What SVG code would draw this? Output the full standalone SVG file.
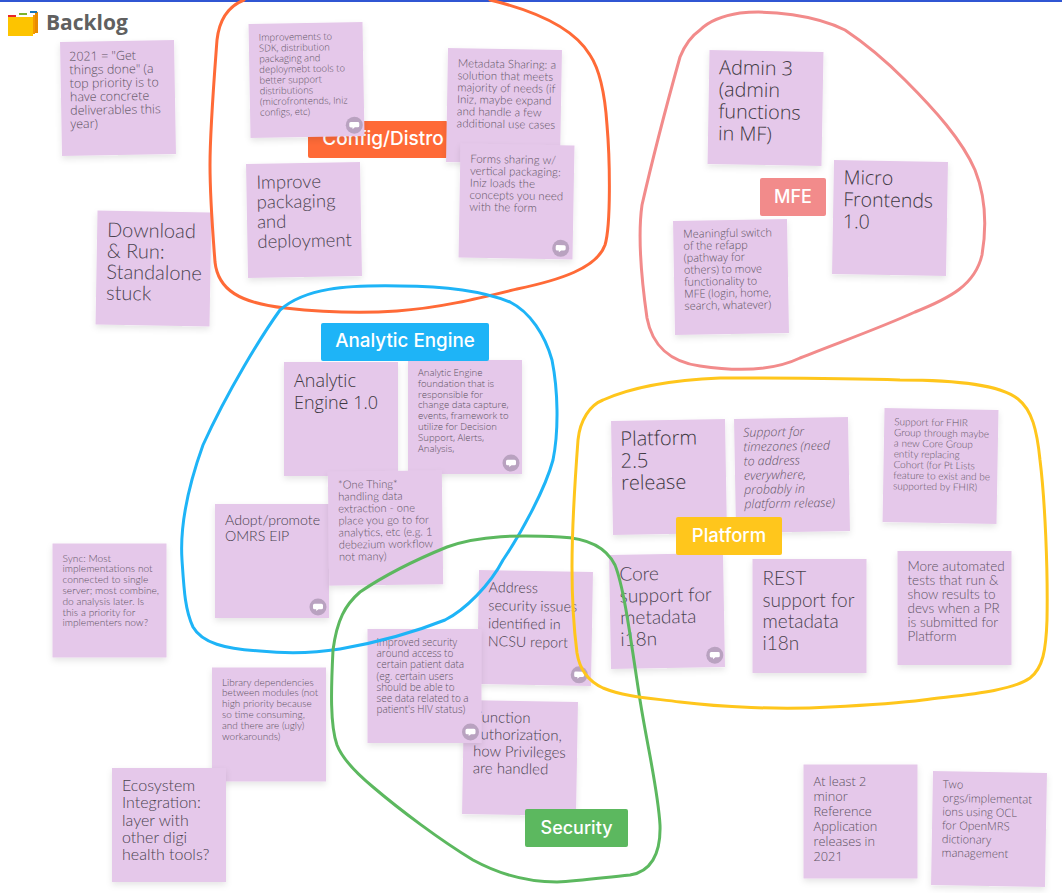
<svg xmlns="http://www.w3.org/2000/svg" xmlns:xlink="http://www.w3.org/1999/xlink" width="1062" height="893" viewBox="0 0 1062 893">
<style>
.n{fill:#e5c8ea;filter:url(#sh)}
text{font-family:"Lato","Noto Sans",sans-serif}
.t{fill:#4a434f;font-weight:300}
.s{fill:#5f5464;font-weight:300}
.h{font-family:"Open Sans","Noto Sans",sans-serif;font-weight:300;fill:#3e3942}
.hs{font-family:"Open Sans","Noto Sans",sans-serif;font-weight:300;fill:#5f5464}
.lb{font-family:"Inter","Roboto",sans-serif;font-weight:500;fill:#fff;text-anchor:middle}
.c{fill:none;stroke-width:3;stroke-linecap:round}
</style>
<defs>
<filter id="sh" x="-15%" y="-15%" width="130%" height="135%"><feDropShadow dx="0" dy="3" stdDeviation="3" flood-color="#000" flood-opacity=".1"/></filter>
<g id="cm"><circle r="8.5" fill="#b9a2c0"/><path d="M-3.5-3.2H3.5Q5-3.2 5-1.7V.7Q5 2.2 3.5 2.2H.5L-1.8 4V2.2H-3.5Q-5 2.2-5 .7V-1.7Q-5-3.2-3.5-3.2Z" fill="#fff"/></g>
</defs>
<rect width="1062" height="893" fill="#fff"/>
<rect width="1062" height="2" fill="#3056d3"/>
<g id="title">
<path d="M8 17H33V36H8Z" fill="#fdc400"/><path d="M33 15H35V34H33Z" fill="#f59a00"/><path d="M35 12H38V33H35Z" fill="#e98b00"/>
<path d="M8 15H16V17H8Z" fill="#e8262a"/><path d="M19 13H27V15H19Z" fill="#7cb32c"/><path d="M30 11H37V13H30Z" fill="#1976b8"/>
<text x="46" y="30" font-size="21" font-weight="700" style="font-family:'Open Sans','Noto Sans',sans-serif" fill="#606060">Backlog</text>
</g>
<g id="label-config"><rect x="308" y="121" width="140" height="37" rx="2" fill="#ff6a37"/><text class="lb" x="383" y="145" font-size="19">Config/Distro</text></g>

<g id="note-2021" transform="translate(118 98) rotate(-1)"><rect class="n" x="-57" y="-57" width="114" height="114"/><text class="hs" font-size="12.5"><tspan x="-48" y="-38">2021 = "Get</tspan><tspan x="-48" dy="13.5">things done" (a</tspan><tspan x="-48" dy="13.5">top priority is to</tspan><tspan x="-48" dy="13.5">have concrete</tspan><tspan x="-48" dy="13.5">deliverables this</tspan><tspan x="-48" dy="13.5">year)</tspan></text></g>
<g id="note-improvements" transform="translate(306.5 80) rotate(-1)"><rect class="n" x="-57" y="-57" width="114" height="114"/><text class="hs" font-size="9.5"><tspan x="-47" y="-40">Improvements to</tspan><tspan x="-47" dy="10.7">SDK, distribution</tspan><tspan x="-47" dy="10.7">packaging and</tspan><tspan x="-47" dy="10.7">deploymebt tools to</tspan><tspan x="-47" dy="10.7">better support</tspan><tspan x="-47" dy="10.7">distributions</tspan><tspan x="-47" dy="10.7">(microfrontends, Iniz</tspan><tspan x="-47" dy="10.7">configs, etc)</tspan></text><use xlink:href="#cm" x="47" y="46"/></g>
<g id="note-download" transform="translate(153.5 268.5) rotate(1)"><rect class="n" x="-57" y="-57" width="114" height="114"/><text class="t" font-size="20"><tspan x="-47" y="-31">Download</tspan><tspan x="-47" dy="21">&amp; Run:</tspan><tspan x="-47" dy="21">Standalone</tspan><tspan x="-47" dy="21">stuck</tspan></text></g>
<g id="note-improve" transform="translate(304 220) rotate(-1)"><rect class="n" x="-57" y="-57" width="114" height="114"/><text class="t" font-size="18.5"><tspan x="-47" y="-32">Improve</tspan><tspan x="-47" dy="19.7">packaging</tspan><tspan x="-47" dy="19.7">and</tspan><tspan x="-47" dy="19.7">deployment</tspan></text></g>
<g id="note-metadata" transform="translate(504 106) rotate(1)"><rect class="n" x="-57" y="-57" width="114" height="114"/><text class="s" font-size="11.5"><tspan x="-47" y="-38">Metadata Sharing: a</tspan><tspan x="-47" dy="12">solution that meets</tspan><tspan x="-47" dy="12">majority of needs (if</tspan><tspan x="-47" dy="12">Iniz, maybe expand</tspan><tspan x="-47" dy="12">and handle a few</tspan><tspan x="-47" dy="12">additional use cases</tspan></text></g>
<g id="note-forms" transform="translate(516.5 201.5) rotate(1)"><rect class="n" x="-57" y="-57" width="114" height="114"/><text class="s" font-size="11.5"><tspan x="-47" y="-38">Forms sharing w/</tspan><tspan x="-47" dy="12">vertical packaging:</tspan><tspan x="-47" dy="12">Iniz loads the</tspan><tspan x="-47" dy="12">concepts you need</tspan><tspan x="-47" dy="12">with the form</tspan></text><use xlink:href="#cm" x="45" y="46"/></g>
<g id="note-admin" transform="translate(765.5 108) rotate(1)"><rect class="n" x="-57" y="-57" width="114" height="114"/><text class="h" font-size="19.8"><tspan x="-47" y="-33">Admin 3</tspan><tspan x="-47" dy="22">(admin</tspan><tspan x="-47" dy="22">functions</tspan><tspan x="-47" dy="22">in MF)</tspan></text></g>
<g id="note-micro" transform="translate(890 218) rotate(1)"><rect class="n" x="-57" y="-57" width="114" height="114"/><text class="h" font-size="19.5"><tspan x="-47" y="-33">Micro</tspan><tspan x="-47" dy="22">Frontends</tspan><tspan x="-47" dy="22">1.0</tspan></text></g>
<g id="note-meaningful" transform="translate(731 277) rotate(-1)"><rect class="n" x="-57" y="-57" width="114" height="114"/><text class="hs" font-size="11"><tspan x="-47" y="-40">Meaningful switch</tspan><tspan x="-47" dy="12">of the refapp</tspan><tspan x="-47" dy="12">(pathway for</tspan><tspan x="-47" dy="12">others) to move</tspan><tspan x="-47" dy="12">functionality to</tspan><tspan x="-47" dy="12">MFE (login, home,</tspan><tspan x="-47" dy="12">search, whatever)</tspan></text></g>
<g id="note-ae" transform="translate(341 419)"><rect class="n" x="-57" y="-57" width="114" height="114"/><text class="h" font-size="18"><tspan x="-47" y="-32">Analytic</tspan><tspan x="-47" dy="22">Engine 1.0</tspan></text></g>
<g id="note-ae-foundation" transform="translate(465 417)"><rect class="n" x="-57" y="-57" width="114" height="114"/><text class="hs" font-size="9.6"><tspan x="-47" y="-41">Analytic Engine</tspan><tspan x="-47" dy="10.8">foundation that is</tspan><tspan x="-47" dy="10.8">responsible for</tspan><tspan x="-47" dy="10.8">change data capture,</tspan><tspan x="-47" dy="10.8">events, framework to</tspan><tspan x="-47" dy="10.8">utilize for Decision</tspan><tspan x="-47" dy="10.8">Support, Alerts,</tspan><tspan x="-47" dy="10.8">Analysis,</tspan></text><use xlink:href="#cm" x="46" y="46"/></g>
<g id="note-adopt" transform="translate(272 561)"><rect class="n" x="-57" y="-57" width="114" height="114"/><text class="t" font-size="14.2"><tspan x="-47" y="-36">Adopt/promote</tspan><tspan x="-47" dy="16">OMRS EIP</tspan></text><use xlink:href="#cm" x="46" y="46"/></g>
<g id="note-onething" transform="translate(385.5 528) rotate(-.7)"><rect class="n" x="-57" y="-57" width="114" height="114"/><text class="s" font-size="11.2"><tspan x="-47" y="-40">*One Thing*</tspan><tspan x="-47" dy="12">handling data</tspan><tspan x="-47" dy="12">extraction - one</tspan><tspan x="-47" dy="12">place you go to for</tspan><tspan x="-47" dy="12">analytics, etc (e.g. 1</tspan><tspan x="-47" dy="12">debezium workflow</tspan><tspan x="-47" dy="12">not many)</tspan></text></g>
<g id="note-function" transform="translate(520 758) rotate(1)"><rect class="n" x="-57" y="-57" width="114" height="114"/><text class="t" font-size="15"><tspan x="-47" y="-35">Function</tspan><tspan x="-47" dy="17">authorization,</tspan><tspan x="-47" dy="17">how Privileges</tspan><tspan x="-47" dy="17">are handled</tspan></text></g>
<g id="note-address" transform="translate(535 628) rotate(1)"><rect class="n" x="-57" y="-57" width="114" height="114"/><text class="t" font-size="14.3"><tspan x="-47" y="-35">Address</tspan><tspan x="-47" dy="18">security issues</tspan><tspan x="-47" dy="18">identified in</tspan><tspan x="-47" dy="18">NCSU report</tspan></text><use xlink:href="#cm" x="45" y="46"/></g>
<g id="note-improved" transform="translate(424.5 686)"><rect class="n" x="-57" y="-57" width="114" height="114"/><text class="hs" font-size="10"><tspan x="-48" y="-40">Improved security</tspan><tspan x="-48" dy="11.2">around access to</tspan><tspan x="-48" dy="11.2">certain patient data</tspan><tspan x="-48" dy="11.2">(eg. certain users</tspan><tspan x="-48" dy="11.2">should be able to</tspan><tspan x="-48" dy="11.2">see data related to a</tspan><tspan x="-48" dy="11.2">patient's HIV status)</tspan></text><use xlink:href="#cm" x="46" y="46"/></g>
<g id="note-platform25" transform="translate(669 477) rotate(-1)"><rect class="n" x="-57" y="-57" width="114" height="114"/><text class="h" font-size="20"><tspan x="-48" y="-32">Platform</tspan><tspan x="-48" dy="22">2.5</tspan><tspan x="-48" dy="22">release</tspan></text></g>
<g id="note-timezones" transform="translate(792 475) rotate(-1)"><rect class="n" x="-57" y="-57" width="114" height="114"/><text class="hs" font-size="12.3" font-style="italic"><tspan x="-48" y="-39">Support for</tspan><tspan x="-48" dy="14.3">timezones (need</tspan><tspan x="-48" dy="14.3">to address</tspan><tspan x="-48" dy="14.3">everywhere,</tspan><tspan x="-48" dy="14.3">probably in</tspan><tspan x="-48" dy="14.3">platform release)</tspan></text></g>
<g id="note-fhir" transform="translate(940.5 466) rotate(1)"><rect class="n" x="-57" y="-57" width="114" height="114"/><text class="s" font-size="10"><tspan x="-47" y="-40">Support for FHIR</tspan><tspan x="-47" dy="10.7">Group through maybe</tspan><tspan x="-47" dy="10.7">a new Core Group</tspan><tspan x="-47" dy="10.7">entity replacing</tspan><tspan x="-47" dy="10.7">Cohort (for Pt Lists</tspan><tspan x="-47" dy="10.7">feature to exist and be</tspan><tspan x="-47" dy="10.7">supported by FHIR)</tspan></text></g>
<g id="note-core" transform="translate(667 611) rotate(-1)"><rect class="n" x="-57" y="-57" width="114" height="114"/><text class="t" font-size="19"><tspan x="-47" y="-31">Core</tspan><tspan x="-47" dy="21.7">support for</tspan><tspan x="-47" dy="21.7">metadata</tspan><tspan x="-47" dy="21.7">i18n</tspan></text><use xlink:href="#cm" x="47" y="45"/></g>
<g id="note-rest" transform="translate(809.5 616)"><rect class="n" x="-57" y="-57" width="114" height="114"/><text class="t" font-size="19"><tspan x="-47" y="-31">REST</tspan><tspan x="-47" dy="21.7">support for</tspan><tspan x="-47" dy="21.7">metadata</tspan><tspan x="-47" dy="21.7">i18n</tspan></text></g>
<g id="note-tests" transform="translate(954.5 608)"><rect class="n" x="-57" y="-57" width="114" height="114"/><text class="s" font-size="13.5"><tspan x="-47" y="-37">More automated</tspan><tspan x="-47" dy="14">tests that run &amp;</tspan><tspan x="-47" dy="14">show results to</tspan><tspan x="-47" dy="14">devs when a PR</tspan><tspan x="-47" dy="14">is submitted for</tspan><tspan x="-47" dy="14">Platform</tspan></text></g>
<g id="note-sync" transform="translate(109.5 600.5)"><rect class="n" x="-57" y="-57" width="114" height="114"/><text class="s" font-size="10.2"><tspan x="-47" y="-39">Sync: Most</tspan><tspan x="-47" dy="10.8">implementations not</tspan><tspan x="-47" dy="10.8">connected to single</tspan><tspan x="-47" dy="10.8">server; most combine,</tspan><tspan x="-47" dy="10.8">do analysis later. Is</tspan><tspan x="-47" dy="10.8">this a priority for</tspan><tspan x="-47" dy="10.8">implementers now?</tspan></text></g>
<g id="note-library" transform="translate(269 724.5)"><rect class="n" x="-57" y="-57" width="114" height="114"/><text class="s" font-size="10"><tspan x="-47" y="-39">Library dependencies</tspan><tspan x="-47" dy="10.8">between modules (not</tspan><tspan x="-47" dy="10.8">high priority because</tspan><tspan x="-47" dy="10.8">so time consuming,</tspan><tspan x="-47" dy="10.8">and there are (ugly)</tspan><tspan x="-47" dy="10.8">workarounds)</tspan></text></g>
<g id="note-ecosystem" transform="translate(169 825)"><rect class="n" x="-57" y="-57" width="114" height="114"/><text class="t" font-size="16"><tspan x="-47" y="-34">Ecosystem</tspan><tspan x="-47" dy="17.3">Integration:</tspan><tspan x="-47" dy="17.3">layer with</tspan><tspan x="-47" dy="17.3">other digi</tspan><tspan x="-47" dy="17.3">health tools?</tspan></text></g>
<g id="note-atleast" transform="translate(860.5 821.5)"><rect class="n" x="-57" y="-57" width="114" height="114"/><text class="hs" font-size="12.8"><tspan x="-47" y="-36">At least 2</tspan><tspan x="-47" dy="15">minor</tspan><tspan x="-47" dy="15">Reference</tspan><tspan x="-47" dy="15">Application</tspan><tspan x="-47" dy="15">releases in</tspan><tspan x="-47" dy="15">2021</tspan></text></g>
<g id="note-two" transform="translate(989 829) rotate(1)"><rect class="n" x="-57" y="-57" width="114" height="114"/><text class="hs" font-size="11.2"><tspan x="-47" y="-40">Two</tspan><tspan x="-47" dy="13.7">orgs/implementat</tspan><tspan x="-47" dy="13.7">ions using OCL</tspan><tspan x="-47" dy="13.7">for OpenMRS</tspan><tspan x="-47" dy="13.7">dictionary</tspan><tspan x="-47" dy="13.7">management</tspan></text></g>

<g id="connectors">
<path class="c" stroke="#ff6a37" d="M244 0C226 7 219 22 217 40C214 80 210 130 210 165C210 200 213 235 215 262C218 290 240 303 285 308C330 313 370 313 397 311C440 308 480 298 517 289C560 280 597 268 605 245C611 225 610 160 607 125C605 95 600 70 590 55C575 30 540 12 490 0"/>
<path class="c" stroke="#f28b8b" d="M700 30C690 37 684 47 680 57C668 100 650 170 642 205C637 240 643 290 647 318C652 345 670 362 700 366C740 372 775 370 800 358C840 342 880 328 915 312C950 298 975 285 982 255C987 225 985 195 975 170C962 140 935 110 905 80C880 55 860 40 845 30C815 15 770 10 740 13C720 16 708 22 700 30Z"/>
<path class="c" stroke="#1eb4f7" d="M280 310C262 335 228 390 203 445C185 495 180 530 182 560C184 590 185 610 193 627C202 643 225 649 260 651C290 654 315 653 340 649C380 642 420 630 445 620C465 610 490 585 503 560C520 535 545 490 553 460C559 430 558 390 552 360C545 335 530 312 510 302C480 290 440 286 400 286C345 285 305 288 280 310Z"/>
<path class="c" stroke="#5cb85f" d="M333 650C337 620 345 605 360 592C385 575 420 558 447 547C480 535 520 535 560 537C585 538 605 545 615 565C625 590 632 650 640 700C648 750 658 790 660 825C661 855 650 872 630 875C600 878 580 881 557 882C525 882 495 872 473 860C440 840 400 810 373 787C355 772 342 758 337 745C330 725 331 690 333 650Z"/>
<path class="c" stroke="#ffc61c" d="M603 400C590 405 580 420 578 440C575 480 572 530 572 567C572 600 574 630 577 653C580 672 590 682 603 688C625 697 650 698 680 702C720 707 780 710 830 707C870 705 900 703 923 700C960 695 1010 692 1030 678C1043 668 1046 650 1047 620C1048 570 1045 500 1040 460C1037 430 1032 410 1018 399C1000 385 960 380 900 380C840 378 780 378 720 378C670 380 630 388 603 400Z"/>
</g>

<g id="label-ae"><rect x="321" y="323" width="168" height="38" rx="2" fill="#1eb4f7"/><text class="lb" x="405" y="347" font-size="18.8">Analytic Engine</text></g>
<g id="label-mfe"><rect x="760" y="178" width="66" height="38" rx="2" fill="#f28b8b"/><text class="lb" x="793" y="203" font-size="18">MFE</text></g>
<g id="label-platform"><rect x="676" y="517" width="106" height="38" rx="2" fill="#ffc61c"/><text class="lb" x="729" y="542" font-size="18.5">Platform</text></g>
<g id="label-security"><rect x="525" y="809" width="103" height="38" rx="2" fill="#5cb85f"/><text class="lb" x="576.5" y="834" font-size="18">Security</text></g>
</svg>
